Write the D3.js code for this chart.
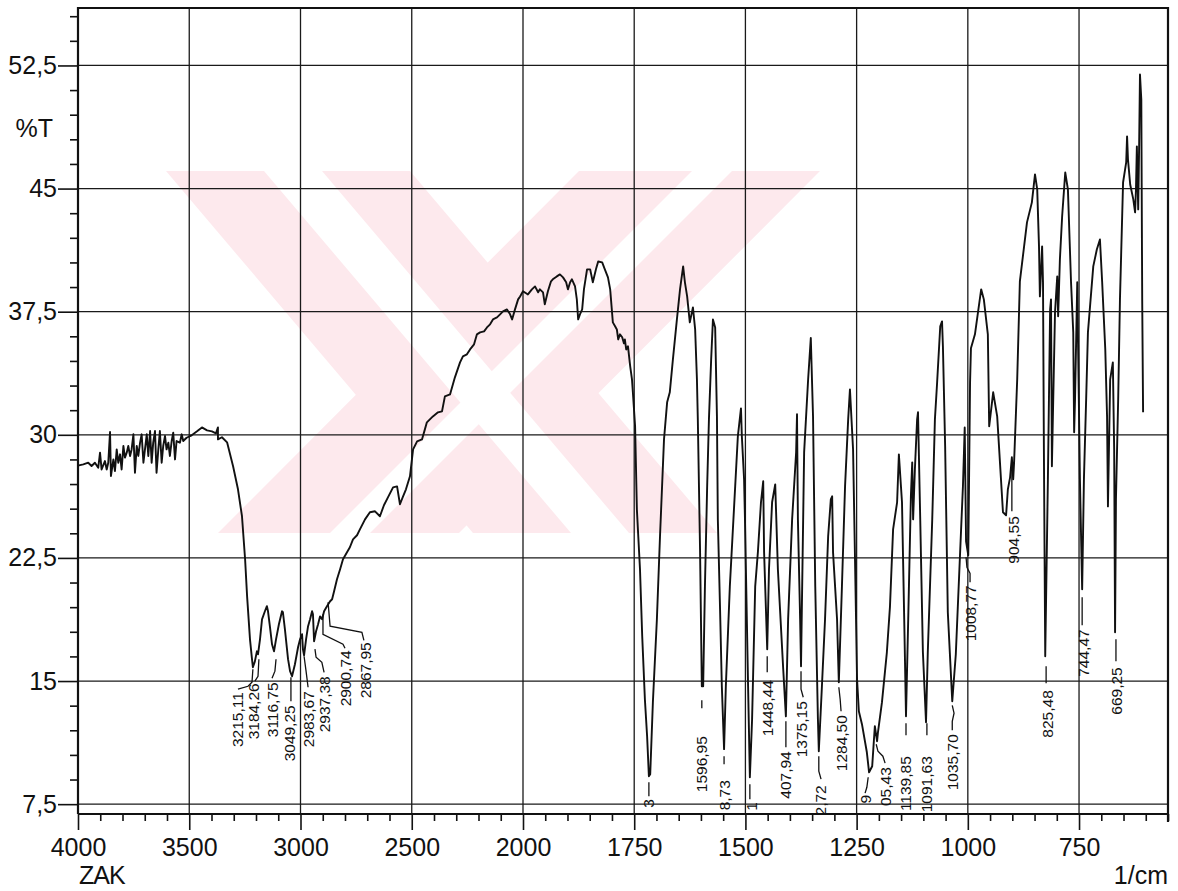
<!DOCTYPE html>
<html>
<head>
<meta charset="utf-8">
<script src="https://cdn.jsdelivr.net/npm/d3@7"></script>
<style>
  html, body { margin: 0; padding: 0; background: #fff; }
  svg { display: block; }
  text { font-family: "Liberation Sans", Arial, Helvetica, sans-serif; fill: #111; }
</style>
</head>
<body>
<svg id="chart" width="1178" height="891"></svg>
<script>
// IR transmittance trace, 4000-2000 1/cm (compressed half of the axis)
const traceHigh = [
  [4000,28.1],[3996,28.14],[3976,28.2],[3954,28.3],[3939,28.1],[3924,28.3],[3909,28.0],[3901,28.91],[3894,27.89],[3879,28.4],
  [3871,27.89],[3864,28.3],[3856,30.17],[3852,27.49],[3841,28.5],[3834,27.79],[3826,29.11],[3819,28.3],[3811,28.81],[3804,27.89],
  [3796,29.32],[3789,28.61],[3781,28.91],[3774,29.32],[3766,28.71],[3759,29.11],[3751,30.03],[3744,27.69],[3736,29.32],[3729,28.71],
  [3721,29.52],[3714,30.03],[3706,28.3],[3699,29.11],[3691,30.03],[3684,28.71],[3676,30.23],[3669,28.3],[3662,29.52],[3654,30.23],
  [3647,27.69],[3639,29.11],[3632,30.23],[3624,28.3],[3617,29.32],[3609,29.93],[3602,29.11],[3594,29.52],[3587,28.71],[3579,29.62],
  [3572,30.13],[3564,28.5],[3557,29.62],[3542,29.52],[3534,30.03],[3527,29.62],[3512,29.82],[3489,29.97],[3465,30.21],[3443,30.45],
  [3420,30.27],[3398,30.21],[3380,30.09],[3371,30.45],[3371,29.72],[3353,29.85],[3330,29.54],[3303,28.08],[3281,26.68],[3263,25.04],
  [3249,22.42],[3240,20.16],[3227,17.54],[3218,16.33],[3214,15.84],[3205,16.2],[3196,16.81],[3191,16.63],[3182,17.54],[3173,18.76],
  [3160,19.25],[3151,19.56],[3146,19.25],[3137,18.27],[3128,17.24],[3119,16.81],[3110,17.54],[3097,18.46],[3083,19.25],[3079,19.19],
  [3070,18.15],[3056,16.33],[3047,15.6],[3038,15.29],[3025,16.02],[3011,17.06],[3002,17.54],[2993,17.85],[2989,16.93],[2984,16.57],
  [2975,17.54],[2966,18.34],[2957,18.76],[2948,19.25],[2944,19.07],[2939,17.42],[2930,18.03],[2921,18.46],[2912,18.94],[2903,18.76],
  [2894,19.25],[2881,19.56],[2867,19.86],[2858,19.98],[2849,20.47],[2836,21.2],[2822,21.81],[2809,22.42],[2791,22.84],[2778,23.15],
  [2764,23.63],[2746,23.88],[2733,24.24],[2710,24.85],[2688,25.28],[2665,25.34],[2643,25.04],[2625,25.71],[2607,26.19],[2584,26.8],
  [2566,26.86],[2553,25.77],[2539,26.25],[2526,26.68],[2508,27.47],[2494,29.11],[2476,29.6],[2454,29.72],[2441,30.33],[2432,30.76],
  [2405,31.12],[2382,31.37],[2364,31.43],[2351,32.34],[2328,32.46],[2306,33.5],[2283,34.41],[2270,34.78],[2252,34.9],[2238,35.2],
  [2220,35.51],[2207,36.12],[2193,36.24],[2175,36.3],[2162,36.54],[2148,36.73],[2135,37.03],[2117,37.15],[2103,37.34],[2090,37.52],
  [2072,37.64],[2058,37.34],[2049,37.03],[2036,37.64],[2022,38.25],[2013,38.43],[2000,38.74]
];

// IR transmittance trace, 2000-606 1/cm (expanded half of the axis)
const traceLow = [
  [1993,38.62],[1989,38.55],[1980,38.86],[1973,39.04],[1966,38.68],[1962,38.86],[1955,38.68],[1951,37.95],[1944,38.74],[1937,39.35],
  [1933,39.47],[1924,39.65],[1917,39.77],[1910,39.59],[1903,39.29],[1899,38.86],[1894,39.29],[1890,39.47],[1883,39.04],[1879,38.25],
  [1876,37.03],[1872,37.34],[1867,37.64],[1863,38.86],[1856,40.08],[1849,40.08],[1843,39.29],[1836,40.08],[1831,40.56],[1822,40.5],
  [1816,40.08],[1809,39.59],[1804,38.86],[1798,36.85],[1793,36.61],[1789,36.42],[1786,35.81],[1782,36.12],[1777,35.94],[1773,35.57],
  [1771,35.81],[1768,35.2],[1764,35.39],[1759,34.17],[1755,33.38],[1753,32.59],[1748,30.52],[1744,25.46],[1737,21.81],[1732,17.73],
  [1726,13.89],[1721,11.64],[1717,9.2],[1714,9.32],[1708,13.71],[1699,18.76],[1692,23.82],[1683,29.72],[1676,31.98],[1670,32.59],
  [1663,34.6],[1654,37.03],[1647,38.86],[1640,40.26],[1636,39.29],[1631,38.43],[1625,36.85],[1618,37.76],[1613,36.42],[1609,33.38],
  [1607,30.94],[1602,23.02],[1598,14.68],[1595,14.68],[1591,20.77],[1586,26.86],[1582,30.94],[1577,34.6],[1573,37.03],[1568,36.54],
  [1564,31.12],[1562,24.85],[1557,19.37],[1553,14.68],[1548,10.85],[1544,14.68],[1535,20.77],[1523,26.86],[1517,29.91],[1510,31.61],
  [1508,29.91],[1503,27.29],[1501,24.85],[1494,14.68],[1490,9.14],[1485,12.67],[1478,20.77],[1472,22.84],[1465,25.89],[1460,27.17],
  [1458,22.84],[1451,16.94],[1447,21.81],[1440,25.89],[1433,26.98],[1427,21.81],[1415,15.72],[1409,12.85],[1404,18.76],[1395,24.85],
  [1386,28.93],[1384,31.25],[1382,24.85],[1377,18.76],[1375,15.9],[1368,28.93],[1359,33.38],[1353,35.9],[1348,31.12],[1343,20.77],
  [1337,12.67],[1335,10.72],[1328,14.68],[1321,18.76],[1314,23.82],[1308,26.07],[1305,26.25],[1303,22.84],[1294,18.76],[1290,14.93],
  [1283,20.77],[1276,26.86],[1269,30.94],[1265,32.77],[1258,29.11],[1254,23.02],[1249,15.11],[1245,13.16],[1238,12.37],[1227,10.66],
  [1222,9.44],[1215,9.81],[1211,11.45],[1209,12.25],[1204,11.33],[1202,11.88],[1193,13.71],[1182,16.75],[1175,19.55],[1168,24.24],
  [1159,25.89],[1155,28.81],[1148,25.89],[1143,18.76],[1139,12.85],[1134,18.76],[1128,26.25],[1125,28.32],[1123,24.85],[1119,27.9],
  [1114,30.94],[1112,31.37],[1107,24.85],[1101,16.75],[1094,12.49],[1090,16.75],[1080,24.85],[1074,30.94],[1069,33.2],[1062,36.61],
  [1058,36.91],[1056,35.39],[1051,29.3],[1045,19.19],[1035,13.77],[1027,16.63],[1018,22.42],[1011,26.86],[1007,30.45],[1004,23.51],
  [999,22.66],[995,33.19],[993,35.27],[984,36.12],[970,38.86],[964,38.25],[955,36.12],[952,30.52],[943,32.59],[934,31.12],
  [921,25.28],[914,25.1],[910,26.68],[905,27.41],[901,28.63],[898,27.29],[896,28.32],[889,33.38],[883,39.35],[867,42.94],
  [856,44.16],[849,45.86],[844,44.95],[840,41.48],[838,38.43],[833,41.48],[831,39.29],[829,29.11],[826,16.51],[820,27.29],
  [815,37.64],[813,38.25],[811,28.08],[808,32.16],[804,37.46],[799,39.65],[797,37.22],[793,40.69],[788,43.3],[781,45.98],
  [775,44.95],[768,39.29],[763,36.24],[761,30.15],[759,32.16],[754,39.29],[752,35.2],[748,27.29],[743,20.59],[739,27.29],
  [734,32.16],[730,36.24],[718,40.26],[710,41.29],[703,41.9],[698,39.29],[691,35.2],[687,31.12],[685,25.64],[680,33.38],
  [674,34.41],[671,29.11],[669,17.97],[667,26.07],[662,32.16],[658,38.25],[651,45.37],[644,46.59],[642,48.18],[640,46.78],
  [635,45.25],[628,44.34],[624,43.55],[622,44.95],[620,47.57],[617,43.73],[615,47.39],[613,51.95],[610,50.43],[608,38.25],
  [606,31.37]
];

// axis ticks
const xMajorTicks = [4000, 3500, 3000, 2500, 2000, 1750, 1500, 1250, 1000, 750];
const xMinorTicks = [3900,3800,3700,3600,3400,3300,3200,3100,2900,2800,2700,2600,2400,2300,2200,2100,
                     1950,1900,1850,1800,1700,1650,1600,1550,1450,1400,1350,1300,1200,1150,1100,1050,
                     950,900,850,800,700,650,600,550];
const yMajorTicks = [7.5, 15, 22.5, 30, 37.5, 45, 52.5];
const yMajorLabels = ["7,5", "15", "22,5", "30", "37,5", "45", "52,5"];
const yMinorTicks = [9,10.5,12,13.5,16.5,18,19.5,21,24,25.5,27,28.5,31.5,33,34.5,36,39,40.5,42,43.5,46.5,48,49.5,51,54,55.5];

// peak labels: printed text, [wavenumber, %T] where the text ends (its top),
// and the leader line drawn from the band down to the text
const peakText = ["3215,11","3184,26","3116,75","3049,25","2983,67","2937,38","2900,74","2867,95",
                  "3","1596,95","8,73","1","1448,44","407,94","1375,15","2,72","1284,50","9","05,43",
                  "1139,85","1091,63","1035,70","1008,77","904,55","825,48","744,47","669,25"];
const peakTextAt = [[3285,14.32],[3209,14.86],[3128,14.92],[3048,13.52],[2966,14.38],[2890,15.29],[2800,16.87],[2710,17.36],
                    [1717,7.8],[1598,11.64],[1548,8.96],[1487,7.62],[1451,15.05],[1409,10.72],[1373,13.77],[1332,8.65],[1285,12.92],[1229,8.06],[1184,9.75],
                    [1139,10.42],[1092,10.42],[1035,11.76],[995,20.83],[898,25.04],[822,14.44],[739,18.15],[665,15.84]];
const peakLeader = [
  [[3214,15.72],[3218,14.93],[3236,14.68],[3281,14.5]],
  [[3187,16.33],[3191,15.29],[3205,14.99]],
  [[3110,16.33],[3115,15.6],[3128,15.17]],
  [[3043,15.23],[3043,13.77]],
  [[2984,16.51],[2975,15.6],[2966,14.62]],
  [[2935,16.94],[2930,16.45],[2904,16.14],[2894,15.53]],
  [[2899,19.07],[2899,17.85],[2809,17.24],[2800,17.0]],
  [[2876,19.8],[2867,18.34],[2724,17.97],[2715,17.48]],
  [[1717,8.84],[1717,7.98]],
  [[1598,13.83],[1598,13.34]],
  [[1548,10.42],[1548,9.93]],
  [[1490,8.71],[1490,7.8]],
  [[1451,16.51],[1451,15.53]],
  [[1409,12.55],[1409,10.97]],
  [[1375,15.6],[1375,14.5],[1370,14.01]],
  [[1335,10.42],[1335,9.51],[1330,9.02]],
  [[1290,14.62],[1287,13.89],[1285,13.16]],
  [[1224,9.14],[1227,8.53],[1231,8.17]],
  [[1206,11.15],[1202,10.72],[1191,10.42],[1186,10.0]],
  [[1139,12.43],[1139,11.7]],
  [[1092,12.43],[1092,11.7]],
  [[1035,13.52],[1031,13.04],[1035,12.55],[1035,12.0]],
  [[1004,22.54],[1002,21.93],[995,21.56],[995,21.02]],
  [[901,28.38],[901,25.34]],
  [[824,15.9],[824,14.86]],
  [[743,20.1],[743,18.4]],
  [[667,17.54],[667,16.2]]
];

// background watermark bands (page decoration, pixel geometry)
const watermarkBands = [
  [[166,171],[410,171],[717,533],[473,533]],
  [[579,171],[820,171],[459,533],[218,533]]
];
const watermarkGaps = [
  [[264,171],[322,171],[629,533],[571,533]],
  [[692,171],[732,171],[370,533],[330,533]]
];

const svg = d3.select("#chart");
const frame = { left: 78, right: 1168, top: 8, bottom: 814 };

// the wavenumber axis is linear in two pieces: 4000-2000 compressed, 2000-550 expanded
const x = d3.scaleLinear().domain([4000, 2000, 550]).range([frame.left, 523, frame.right]);
const y = d3.scaleLinear().domain([6.9, 56]).range([frame.bottom, frame.top]);

svg.append("rect").attr("width", 1178).attr("height", 891).attr("fill", "#fff");

// watermark
const clip = svg.append("defs").append("clipPath").attr("id", "wm-clip");
clip.append("rect").attr("x", 166).attr("y", 171).attr("width", 1002).attr("height", 362);
const wm = svg.append("g").attr("clip-path", "url(#wm-clip)");
const poly = d3.line();
wm.selectAll("path.band").data(watermarkBands).join("path")
  .attr("class", "band").attr("d", d => poly(d) + "Z").attr("fill", "#fde9ed");
wm.selectAll("path.gap").data(watermarkGaps).join("path")
  .attr("class", "gap").attr("d", d => poly(d) + "Z").attr("fill", "#fff");

// grid
const grid = svg.append("g").attr("stroke", "#1a1a1a").attr("stroke-width", 1.3);
grid.selectAll("line.h").data(yMajorTicks).join("line")
  .attr("x1", frame.left).attr("x2", frame.right)
  .attr("y1", d => y(d)).attr("y2", d => y(d));
grid.selectAll("line.v").data(xMajorTicks.filter(d => d !== 4000)).join("line")
  .attr("x1", d => x(d)).attr("x2", d => x(d))
  .attr("y1", frame.top).attr("y2", frame.bottom);

// axes
const axisFont = "25px";
const xMinorAxis = svg.append("g").attr("transform", `translate(0,${frame.bottom})`)
  .call(d3.axisBottom(x).tickValues(xMinorTicks).tickSize(7).tickSizeOuter(0).tickFormat(""));
const xMajorAxis = svg.append("g").attr("transform", `translate(0,${frame.bottom})`)
  .call(d3.axisBottom(x).tickValues(xMajorTicks).tickSize(16).tickSizeOuter(0).tickPadding(8).tickFormat(d => d));
const yMinorAxis = svg.append("g").attr("transform", `translate(${frame.left},0)`)
  .call(d3.axisLeft(y).tickValues(yMinorTicks).tickSize(8).tickSizeOuter(0).tickFormat(""));
const yMajorAxis = svg.append("g").attr("transform", `translate(${frame.left},0)`)
  .call(d3.axisLeft(y).tickValues(yMajorTicks).tickSize(20).tickSizeOuter(0).tickPadding(1)
        .tickFormat((d, i) => yMajorLabels[i]));
[xMinorAxis, xMajorAxis, yMinorAxis, yMajorAxis].forEach(g => {
  g.select(".domain").remove();
  g.selectAll(".tick line").attr("stroke", "#111").attr("stroke-width", 1.6);
  g.selectAll(".tick text").attr("font-size", axisFont)
    .attr("font-family", "'Liberation Sans', Arial, sans-serif").attr("fill", "#111");
});

// plot frame
const border = svg.append("g").attr("stroke", "#111").attr("stroke-width", 2.2).attr("fill", "none");
border.append("path").attr("d",
  `M${frame.left},${frame.bottom}V${frame.top}H${frame.right}V${frame.bottom + 8}`);
border.append("line").attr("x1", frame.left).attr("x2", frame.right)
  .attr("y1", frame.bottom).attr("y2", frame.bottom);

// axis captions
svg.append("text").attr("x", 53).attr("y", 137).attr("text-anchor", "end")
  .attr("font-size", axisFont).text("%T");
svg.append("text").attr("x", 79).attr("y", 884).attr("font-size", axisFont)
  .attr("letter-spacing", "-1").text("ZAK");
svg.append("text").attr("x", 1168).attr("y", 884).attr("text-anchor", "end")
  .attr("font-size", axisFont).text("1/cm");

// spectrum
const line = d3.line().x(d => x(d[0])).y(d => y(d[1]));
svg.append("path").datum(traceHigh.concat(traceLow))
  .attr("d", line).attr("fill", "none").attr("stroke", "#111")
  .attr("stroke-width", 1.9).attr("stroke-linejoin", "round");

// peak annotations
const ann = svg.append("g");
ann.selectAll("path").data(peakLeader).join("path")
  .attr("d", line).attr("fill", "none").attr("stroke", "#111").attr("stroke-width", 1.3);
ann.selectAll("text").data(peakText).join("text")
  .attr("transform", (d, i) => `translate(${x(peakTextAt[i][0])},${y(peakTextAt[i][1])}) rotate(-90)`)
  .attr("text-anchor", "end").attr("dominant-baseline", "central")
  .attr("font-size", "15.5px").text(d => d);
</script>
</body>
</html>
